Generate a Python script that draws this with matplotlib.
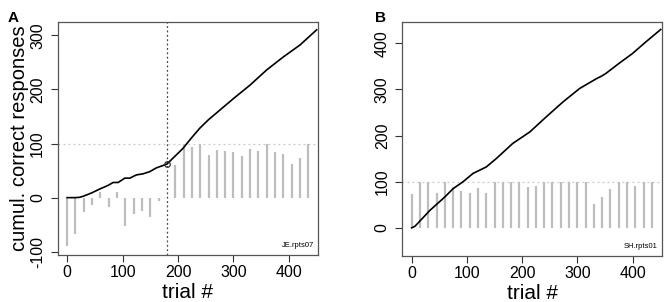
import numpy as np
import matplotlib.pyplot as plt

plt.rcParams['font.family'] = ['Liberation Sans', 'DejaVu Sans']

# block positions (trial #) and block scores, one bar per 15 trials
blocks = list(range(0, 450, 15))
score_A = [-90, -68, -26, -14, 11, -17, 10, -52, -31, -24, -35, -7, 0,
           61, 100, 93, 100, 79, 88, 86, 85, 76, 90, 87, 100, 85, 81, 62, 73, 100]
score_B = [73, 100, 100, 76, 100, 88, 79, 76, 87, 75, 100, 100, 100, 100,
           88, 90, 100, 100, 100, 100, 100, 100, 52, 67, 84, 100, 100, 91, 100, 100]

# cumulative correct responses
trial_A = [0, 14, 22, 29, 44, 59, 74, 83, 92, 104, 113, 125, 137, 149, 161, 180,
           194, 209, 224, 239, 255, 270, 300, 330, 360, 390, 420, 450]
cum_A = [0, 0, 0.5, 2.5, 8.6, 16, 22.7, 28, 28, 36, 36, 42, 44, 48, 55, 62,
         76, 91, 110, 128, 144, 157, 183, 208, 236, 260, 282, 310]
trial_B = [0, 6, 33, 60, 75, 93, 111, 135, 153, 183, 214, 244, 274, 304,
           334, 344, 352, 376, 400, 424, 451]
cum_B = [0, 3.6, 38, 67, 85, 100, 118, 132, 150, 183, 208, 241, 273, 302,
         323, 329, 335, 357, 378, 403, 430]

switch_trial = 180
switch_value = 62

fig = plt.figure(figsize=(6.67, 3.02), dpi=100)
axA = fig.add_axes([0.0865, 0.1556, 0.3907, 0.7725])
axB = fig.add_axes([0.6032, 0.1523, 0.389, 0.776])


def style(ax, ylim, yticks, name):
    ax.set_xlim(-17, 453)
    ax.set_ylim(*ylim)
    ax.set_xticks([0, 100, 200, 300, 400])
    ax.set_yticks(yticks)
    ax.set_yticklabels([str(t) for t in yticks], rotation=90, va='center')
    for s in ax.spines.values():
        s.set_color('#555555')
        s.set_linewidth(0.9)
    ax.tick_params(direction='out', length=5, width=0.8, color='#333333',
                   labelsize=11.5, pad=2)
    ax.tick_params(axis='y', pad=4)
    ax.axhline(100, color='#c8c8c8', lw=0.9, ls=(0, (1.5, 2.5)), zorder=1)
    ax.text(0.985, 0.025, name, transform=ax.transAxes, ha='right', va='bottom',
            fontsize=5.5)
    ax.set_xlabel('trial #', fontsize=15, labelpad=2)


# panel A
axA.vlines(blocks, 0, score_A, color='#bdbdbd', lw=1.6, zorder=2)
axA.axvline(switch_trial, color='#444444', lw=0.9, ls=(0, (1.5, 2)), zorder=3)
axA.plot(trial_A, cum_A, color='black', lw=1.2, zorder=4)
axA.plot([switch_trial], [switch_value], 'o', mfc='none', mec='#333333',
         ms=4, mew=0.9, zorder=5)
style(axA, (-106, 325), [-100, 0, 100, 200, 300], 'JE.rpts07')
axA.set_ylabel('cumul. correct responses', fontsize=14.5, labelpad=1)

# panel B
axB.vlines(blocks, 0, score_B, color='#bdbdbd', lw=1.6, zorder=2)
axB.plot(trial_B, cum_B, color='black', lw=1.2, zorder=4)
style(axB, (-61, 447), [0, 100, 200, 300, 400], 'SH.rpts01')

fig.text(0.012, 0.965, 'A', fontsize=11, fontweight='bold', va='top')
fig.text(0.562, 0.965, 'B', fontsize=11, fontweight='bold', va='top')

fig.savefig('out.png', dpi=100)
